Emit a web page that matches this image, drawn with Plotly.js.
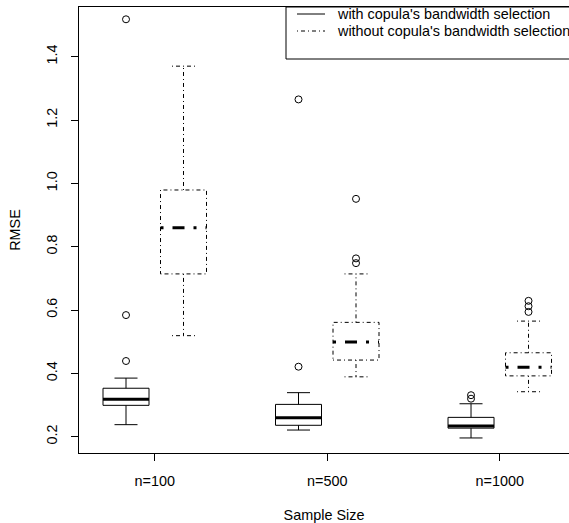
<!DOCTYPE html>
<html>
<head>
<meta charset="utf-8">
<script src="https://cdn.plot.ly/plotly-3.0.1.min.js"></script>
<style>
html, body { margin: 0; padding: 0; background: #fff; overflow: hidden; }
#chart { width: 569px; height: 523px; }
</style>
</head>
<body>
<div id="chart"></div>
<script>
// ---- data ----
const categories = ["n=100", "n=500", "n=1000"];
const seriesNames = ["with copula's bandwidth selection", "without copula's bandwidth selection"];

const withLower  = [0.238, 0.221, 0.196];
const withQ1     = [0.299, 0.236, 0.227];
const withMedian = [0.318, 0.260, 0.234];
const withQ3     = [0.353, 0.302, 0.261];
const withUpper  = [0.385, 0.339, 0.304];
const withOutliers = [[1.518, 0.584, 0.439], [1.265, 0.421], [0.331, 0.320]];

const withoutLower  = [0.519, 0.389, 0.342];
const withoutQ1     = [0.714, 0.442, 0.392];
const withoutMedian = [0.860, 0.499, 0.419];
const withoutQ3     = [0.979, 0.561, 0.465];
const withoutUpper  = [1.370, 0.714, 0.565];
const withoutOutliers = [[], [0.951, 0.763, 0.748], [0.629, 0.612, 0.594]];

const yTicks = [0.2, 0.4, 0.6, 0.8, 1.0, 1.2, 1.4];
const yTickText = ["0.2", "0.4", "0.6", "0.8", "1.0", "1.2", "1.4"];

// ---- layout geometry ----
const W = 569, H = 523;
const M = { l: 79, r: 0, t: 7, b: 70 };
const FONT = "Liberation Sans, Arial, Helvetica, sans-serif";
const FS = 14.4;
const BOXHALF = 0.4, STAPLEHALF = 0.2;
const groupCenters = categories.map((c, i) => 1.5 + 3 * i);

function buildSeries(offset, lo, q1, med, q3, hi, outs) {
  const lx = [], ly = [], mx = [], my = [], ox = [], oy = [];
  groupCenters.forEach((gc, i) => {
    const p = gc + offset;
    const a = p - BOXHALF, b = p + BOXHALF;
    // box
    lx.push(a, b, b, a, a, null); ly.push(q1[i], q1[i], q3[i], q3[i], q1[i], null);
    // whiskers
    lx.push(p, p, null, p, p, null); ly.push(q3[i], hi[i], null, q1[i], lo[i], null);
    // staples
    lx.push(p - STAPLEHALF, p + STAPLEHALF, null, p - STAPLEHALF, p + STAPLEHALF, null);
    ly.push(hi[i], hi[i], null, lo[i], lo[i], null);
    // median
    mx.push(a, b, null); my.push(med[i], med[i], null);
    outs[i].forEach(v => { ox.push(p); oy.push(v); });
  });
  return { lx, ly, mx, my, ox, oy };
}

const s1 = buildSeries(-0.5, withLower, withQ1, withMedian, withQ3, withUpper, withOutliers);
const s2 = buildSeries(0.5, withoutLower, withoutQ1, withoutMedian, withoutQ3, withoutUpper, withoutOutliers);

const DOTDASH1 = "1px,3px,4px,3px";
const DOTDASH3 = "3px,9px,12px,9px";

const traces = [
  { type: "scatter", mode: "lines", x: s1.lx, y: s1.ly, name: seriesNames[0],
    line: { color: "#000", width: 1 }, hoverinfo: "skip", showlegend: false },
  { type: "scatter", mode: "lines", x: s1.mx, y: s1.my, name: seriesNames[0] + " median",
    line: { color: "#000", width: 3 }, hoverinfo: "skip", showlegend: false },
  { type: "scatter", mode: "markers", x: s1.ox, y: s1.oy, name: seriesNames[0] + " outliers",
    marker: { symbol: "circle-open", size: 7, color: "#000", line: { width: 1 } }, showlegend: false },
  { type: "scatter", mode: "lines", x: s2.lx, y: s2.ly, name: seriesNames[1],
    line: { color: "#000", width: 1, dash: DOTDASH1 }, hoverinfo: "skip", showlegend: false },
  { type: "scatter", mode: "lines", x: s2.mx, y: s2.my, name: seriesNames[1] + " median",
    line: { color: "#000", width: 3, dash: DOTDASH3 }, hoverinfo: "skip", showlegend: false },
  { type: "scatter", mode: "markers", x: s2.ox, y: s2.oy, name: seriesNames[1] + " outliers",
    marker: { symbol: "circle-open", size: 7, color: "#000", line: { width: 1 } }, showlegend: false }
];

// pixel -> paper helpers (for the legend decoration)
const PW = W - M.l - M.r, PH = H - M.t - M.b;
const px = x => (x - M.l) / PW;
const py = y => (H - M.b - y) / PH;

const legRows = [14, 31];
const shapes = [
  { type: "rect", xref: "paper", yref: "paper", x0: px(286), x1: px(590), y0: py(7), y1: py(59),
    line: { color: "#000", width: 1 }, fillcolor: "rgba(0,0,0,0)" },
  { type: "line", xref: "paper", yref: "paper", x0: px(297), x1: px(325), y0: py(legRows[0]), y1: py(legRows[0]),
    line: { color: "#000", width: 1 } },
  { type: "line", xref: "paper", yref: "paper", x0: px(297), x1: px(325), y0: py(legRows[1]), y1: py(legRows[1]),
    line: { color: "#000", width: 1, dash: DOTDASH1 } }
];
const annotations = seriesNames.map((t, i) => ({
  xref: "paper", yref: "paper", x: px(335), y: py(legRows[i]),
  xanchor: "left", yanchor: "middle", showarrow: false, text: t,
  font: { family: FONT, size: FS, color: "#000" }
}));

const layout = {
  width: W, height: H,
  margin: M,
  paper_bgcolor: "#fff", plot_bgcolor: "#fff",
  showlegend: false,
  font: { family: FONT, size: FS, color: "#000" },
  xaxis: {
    range: [0.1826, 8.704],
    tickvals: groupCenters, ticktext: categories,
    ticks: "outside", ticklen: 7, tickwidth: 1, tickcolor: "#000",
    showline: true, mirror: true, linecolor: "#000", linewidth: 1,
    showgrid: false, zeroline: false, automargin: false,
    tickfont: { family: FONT, size: FS, color: "#000" },
    ticklabelstandoff: 8,
    title: { text: "Sample Size", standoff: 23, font: { family: FONT, size: FS, color: "#000" } }
  },
  yaxis: {
    range: [0.1485, 1.5568],
    tickvals: yTicks, ticktext: yTickText, tickangle: -90,
    ticks: "outside", ticklen: 7, tickwidth: 1, tickcolor: "#000",
    showline: true, mirror: false, linecolor: "#000", linewidth: 1,
    showgrid: false, zeroline: false, automargin: false,
    tickfont: { family: FONT, size: FS, color: "#000" },
    ticklabelstandoff: 8,
    title: { text: "RMSE", standoff: 20, font: { family: FONT, size: FS, color: "#000" } }
  },
  shapes: shapes,
  annotations: annotations
};

Plotly.newPlot("chart", traces, layout, { staticPlot: true, displayModeBar: false });
</script>
</body>
</html>
